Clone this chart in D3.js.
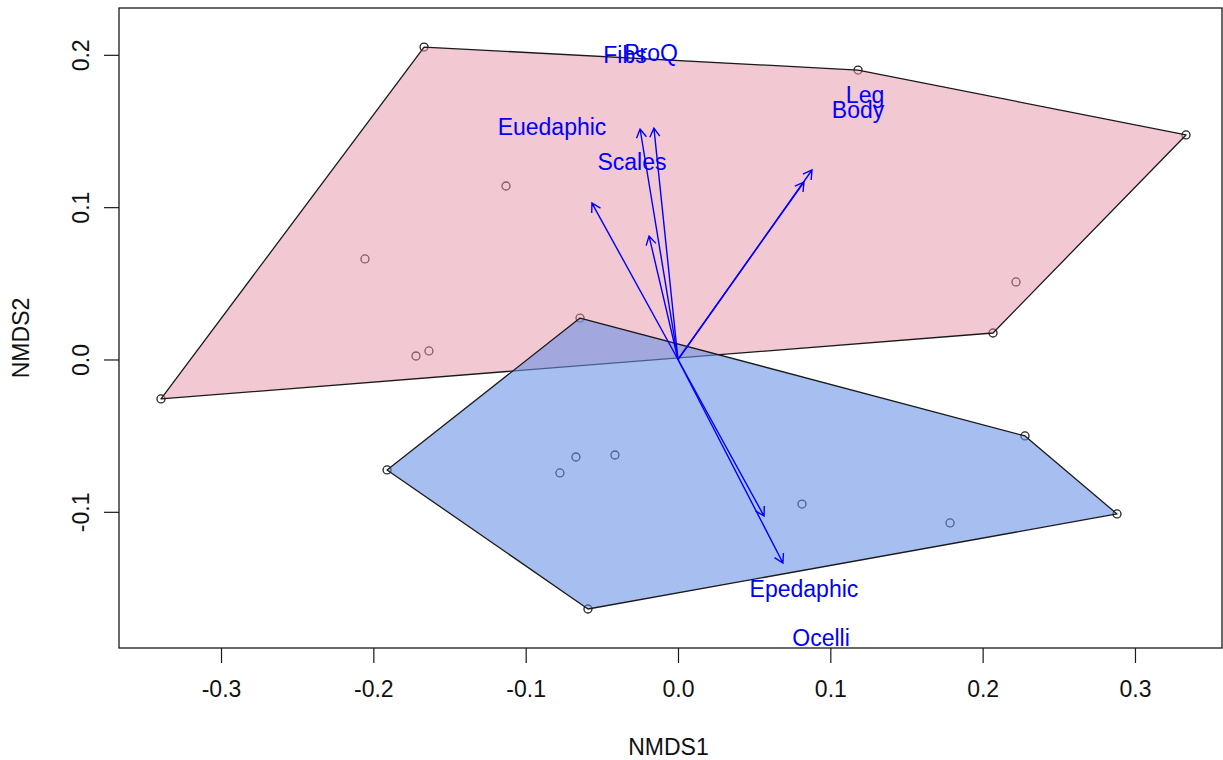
<!DOCTYPE html>
<html>
<head>
<meta charset="utf-8">
<script src="https://cdn.jsdelivr.net/npm/d3@7"></script>
<style>
  html, body { margin: 0; padding: 0; background: #fff; }
  svg text { font-family: "Liberation Sans", Arial, Helvetica, sans-serif; }
</style>
</head>
<body>
<svg id="chart" width="1223" height="760"></svg>
<script>
// NMDS site scores, group 1 (pink hull)
const group1X = [-0.1667, 0.1182, 0.3335, 0.2068, -0.3394, -0.1129, -0.2055, -0.1720, -0.1635, 0.2219];
const group1Y = [0.2051, 0.1900, 0.1474, 0.0174, -0.0259, 0.1139, 0.0660, 0.0023, 0.0056, 0.0509];
// NMDS site scores, group 2 (blue hull)
const group2X = [-0.0643, 0.2278, 0.2882, -0.0591, -0.1910, -0.0670, -0.0775, -0.0414, 0.0814, 0.1786];
const group2Y = [0.0272, -0.0502, -0.1014, -0.1638, -0.0725, -0.0640, -0.0745, -0.0627, -0.0949, -0.1073];

// Fitted trait vectors (arrow tips) and their label positions
const traitNames = ["Euedaphic", "Fibs", "ProQ", "Scales", "Leg", "Body", "Epedaphic", "Ocelli"];
const arrowX = [-0.0565, -0.0249, -0.0158, -0.0190, 0.0880, 0.0827, 0.0565, 0.0689];
const arrowY = [0.1027, 0.1513, 0.1519, 0.0810, 0.1244, 0.1165, -0.1028, -0.1336];
const labelX = [-0.0827, -0.0348, -0.0177, -0.0302, 0.1228, 0.1182, 0.0827, 0.0939];
const labelY = [0.1526, 0.1999, 0.2012, 0.1296, 0.1736, 0.1638, -0.1507, -0.1829];

// Axis ticks
const xTicks = [-0.3, -0.2, -0.1, 0.0, 0.1, 0.2, 0.3];
const xTickLabels = ["-0.3", "-0.2", "-0.1", "0.0", "0.1", "0.2", "0.3"];
const yTicks = [-0.1, 0.0, 0.1, 0.2];
const yTickLabels = ["-0.1", "0.0", "0.1", "0.2"];

const svg = d3.select("#chart");
const plot = { left: 119, right: 1222, top: 8, bottom: 648 };

const x = d3.scaleLinear().domain([-0.36697, 0.35713]).range([plot.left, plot.right]);
const y = d3.scaleLinear().domain([-0.18940, 0.23074]).range([plot.bottom, plot.top]);

const g1 = group1X.map((v, i) => [x(v), y(group1Y[i])]);
const g2 = group2X.map((v, i) => [x(v), y(group2Y[i])]);

const clip = svg.append("defs").append("clipPath").attr("id", "plotclip")
  .append("rect").attr("x", plot.left).attr("y", plot.top)
  .attr("width", plot.right - plot.left).attr("height", plot.bottom - plot.top);

const area = svg.append("g").attr("clip-path", "url(#plotclip)");

// site points (drawn under the hull fills)
area.append("g").selectAll("circle").data(g1.concat(g2)).join("circle")
  .attr("cx", d => d[0]).attr("cy", d => d[1]).attr("r", 4)
  .attr("fill", "none").attr("stroke", "#222").attr("stroke-width", 1.3);

// convex hulls of each group
const hulls = [
  { pts: g1, fill: "rgba(229,145,167,0.5)" },
  { pts: g2, fill: "rgba(103,143,229,0.58)" }
];
hulls.forEach(h => {
  const hull = d3.polygonHull(h.pts);
  area.append("path")
    .attr("d", "M" + hull.map(p => p.join(",")).join("L") + "Z")
    .attr("fill", h.fill)
    .attr("stroke", "#1a1a1a").attr("stroke-width", 1.3)
    .attr("stroke-linejoin", "round");
});

// trait arrows
const ox = x(0), oy = y(0);
const arrows = area.append("g").attr("stroke", "#0000ff").attr("stroke-width", 1.4).attr("fill", "none");
arrowX.forEach((v, i) => {
  const tx = x(v), ty = y(arrowY[i]);
  const ang = Math.atan2(ty - oy, tx - ox);
  const len = 10, spread = Math.PI / 6;
  const a1 = [tx - len * Math.cos(ang - spread), ty - len * Math.sin(ang - spread)];
  const a2 = [tx - len * Math.cos(ang + spread), ty - len * Math.sin(ang + spread)];
  arrows.append("path")
    .attr("d", `M${ox},${oy}L${tx},${ty}M${a1[0]},${a1[1]}L${tx},${ty}L${a2[0]},${a2[1]}`);
});

// trait labels
area.append("g").selectAll("text").data(traitNames).join("text")
  .attr("x", (d, i) => x(labelX[i])).attr("y", (d, i) => y(labelY[i]))
  .attr("dy", "0.35em").attr("text-anchor", "middle")
  .attr("fill", "#0000ff").attr("font-size", 23)
  .text(d => d);

// x axis
const xAxis = svg.append("g").attr("transform", `translate(0,${plot.bottom})`)
  .call(d3.axisBottom(x).tickValues(xTicks).tickSize(15).tickPadding(18)
    .tickFormat((d, i) => xTickLabels[i]));
xAxis.select(".domain").remove();
xAxis.selectAll("line").attr("stroke", "#1a1a1a").attr("stroke-width", 1.2);
xAxis.selectAll("text").attr("font-size", 23).attr("fill", "#111")
  .attr("font-family", "'Liberation Sans', Arial, sans-serif");

// y axis with labels parallel to the axis
const yAxis = svg.append("g").attr("transform", `translate(${plot.left},0)`)
  .call(d3.axisLeft(y).tickValues(yTicks).tickSize(15).tickFormat((d, i) => yTickLabels[i]));
yAxis.select(".domain").remove();
yAxis.selectAll("line").attr("stroke", "#1a1a1a").attr("stroke-width", 1.2);
yAxis.selectAll("text")
  .attr("x", null).attr("dy", null)
  .attr("transform", "translate(-38,0) rotate(-90)")
  .attr("text-anchor", "middle").attr("dominant-baseline", "central")
  .attr("font-size", 23).attr("fill", "#111")
  .attr("font-family", "'Liberation Sans', Arial, sans-serif");

// plot frame
svg.append("rect")
  .attr("x", plot.left).attr("y", plot.top)
  .attr("width", plot.right - plot.left).attr("height", plot.bottom - plot.top)
  .attr("fill", "none").attr("stroke", "#1a1a1a").attr("stroke-width", 1.3);

// axis titles
svg.append("text").attr("x", (plot.left + plot.right) / 2 - 2).attr("y", 747)
  .attr("dy", "0.35em").attr("text-anchor", "middle").attr("font-size", 23).attr("fill", "#111")
  .text("NMDS1");
svg.append("text").attr("transform", `translate(21,${(plot.top + plot.bottom) / 2 + 10}) rotate(-90)`)
  .attr("dy", "0.35em").attr("text-anchor", "middle").attr("font-size", 23).attr("fill", "#111")
  .text("NMDS2");
</script>
</body>
</html>
